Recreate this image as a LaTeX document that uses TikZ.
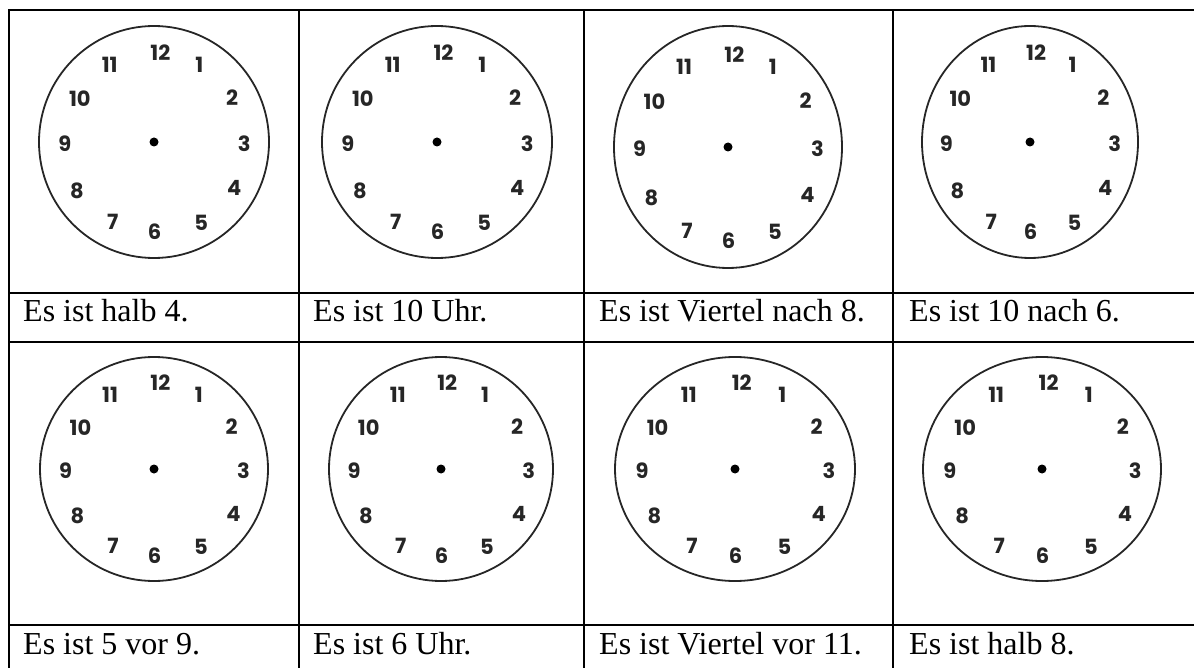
\documentclass[tikz,border=0pt]{standalone}
\usepackage{fontspec}
\setmainfont{Liberation Serif}
\newfontfamily\clockfont{Poppins}

\begin{document}
\begin{tikzpicture}[x=1pt, y=-1pt,
    grid/.style = {line width=2pt, line cap=rect},
    face/.style = {draw=black!85, line width=1.8pt},
    hub/.style = {fill=black, circle, inner sep=0pt, minimum size=9pt},
    digit/.style = {inner sep=0pt, text=black!85, font=\clockfont\bfseries\fontsize{21}{21}\selectfont},
    caption/.style = {anchor=base west, inner sep=0pt, font=\fontsize{32}{38}\selectfont}]

  \useasboundingbox (0,0) rectangle (1194,668);

  \foreach \y in {10,293,342,625}
    \draw[grid] (9,\y) -- (1194,\y);
  \foreach \x in {9,299,584,893}
    \draw[grid] (\x,10) -- (\x,668);

  \foreach \n/\cx/\cy/\rx/\ry in {1/154/142/115/116, 2/437/142/115/116, 3/728/147/114/121, 4/1030/142/108/116,
                                   5/154/469/114/112, 6/441/469/112/112, 7/735/469/120/112, 8/1042/469/119/112} {
    \draw[face] (\cx,\cy) ellipse [x radius=\rx, y radius=\ry];
    \node[hub] (hub\n) at (\cx,\cy) {};
    \foreach \h/\dx/\dy in {12/0.056/-0.767, 1/0.394/-0.664, 2/0.680/-0.379, 3/0.784/0.017,
                            4/0.697/0.397, 5/0.411/0.698, 6/0.004/0.776, 7/-0.359/0.690,
                            8/-0.671/0.422, 9/-0.775/0.017, 10/-0.645/-0.371, 11/-0.385/-0.664}
      \node[digit] (num\n-\h) at (\cx+\dx*\rx, \cy+\dy*\ry) {\h};
  }

  \node[caption] (text1) at (23,322) {Es ist halb 4.};
  \node[caption] (text2) at (313,322) {Es ist 10 Uhr.};
  \node[caption] (text3) at (599,322) {Es ist Viertel nach 8.};
  \node[caption] (text4) at (909,322) {Es ist 10 nach 6.};
  \node[caption] (text5) at (23,654) {Es ist 5 vor 9.};
  \node[caption] (text6) at (313,654) {Es ist 6 Uhr.};
  \node[caption] (text7) at (599,654) {Es ist Viertel vor 11.};
  \node[caption] (text8) at (909,654) {Es ist halb 8.};
\end{tikzpicture}
\end{document}
